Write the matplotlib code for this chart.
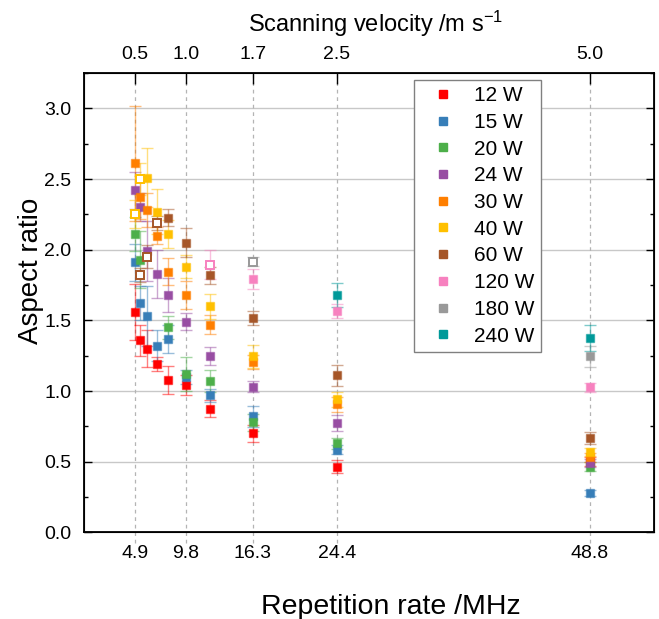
import numpy as np
import matplotlib
matplotlib.use('Agg')
import matplotlib.pyplot as plt
from matplotlib.ticker import MultipleLocator

plt.rcParams['font.family'] = ['Liberation Sans', 'DejaVu Sans']
plt.rcParams['mathtext.fontset'] = 'custom'
plt.rcParams['mathtext.rm'] = 'Liberation Sans'
plt.rcParams['mathtext.it'] = 'Liberation Sans'

# repetition rate positions (MHz) and the matching scanning velocity labels
rate = [4.9, 5.4, 6.1, 7.0, 8.1, 9.8, 12.2, 16.3, 24.4, 48.8]
rate_ticks = [4.9, 9.8, 16.3, 24.4, 48.8]
velocity_labels = ['0.5', '1.0', '1.7', '2.5', '5.0']

nan = np.nan
# aspect ratio per power, same order as rate (nan = not measured)
ar_12 = [1.56, 1.36, 1.30, 1.19, 1.08, 1.04, 0.875, 0.70, 0.465, 0.50]
ar_15 = [1.91, 1.62, 1.53, 1.32, 1.37, 1.10, 0.97, 0.82, 0.585, 0.278]
ar_20 = [2.11, 1.93, nan, nan, 1.45, 1.12, 1.07, 0.78, 0.63, 0.465]
ar_24 = [2.42, 2.30, 1.99, 1.83, 1.68, 1.49, 1.25, 1.03, 0.775, 0.49]
ar_30 = [2.61, 2.37, 2.28, 2.10, 1.845, 1.68, 1.47, 1.205, 0.905, 0.53]
ar_40 = [2.25, 2.50, 2.51, 2.27, 2.11, 1.88, 1.60, 1.245, 0.94, 0.57]
ar_60 = [nan, 1.82, 1.95, 2.19, 2.225, 2.05, 1.82, 1.515, 1.11, 0.668]
ar_120 = [nan, nan, nan, nan, nan, nan, 1.895, 1.79, 1.565, 1.025]
ar_180 = [nan, nan, nan, nan, nan, nan, nan, 1.915, nan, 1.245]
ar_240 = [nan, nan, nan, nan, nan, nan, nan, nan, 1.68, 1.375]

# error bars (std)
err_12 = [0.20, 0.11, 0.13, 0.05, 0.10, 0.07, 0.06, 0.06, 0.045, 0.03]
err_15 = [0.13, 0.12, 0.21, 0.11, 0.10, 0.05, 0.045, 0.075, 0.03, 0.02]
err_20 = [0.12, 0.20, nan, nan, 0.08, 0.12, 0.08, 0.06, 0.04, 0.03]
err_24 = [0.13, 0.10, 0.21, 0.17, 0.12, 0.06, 0.065, 0.04, 0.055, 0.03]
err_30 = [0.41, 0.15, 0.12, 0.06, 0.095, 0.10, 0.07, 0.05, 0.05, 0.03]
err_40 = [0.10, 0.11, 0.21, 0.16, 0.10, 0.08, 0.09, 0.08, 0.05, 0.03]
err_60 = [nan, 0.05, 0.08, 0.05, 0.06, 0.10, 0.06, 0.05, 0.075, 0.04]
err_120 = [nan, nan, nan, nan, nan, nan, 0.10, 0.07, 0.05, 0.03]
err_180 = [nan, nan, nan, nan, nan, nan, nan, 0.03, nan, 0.075]
err_240 = [nan, nan, nan, nan, nan, nan, nan, nan, 0.085, 0.095]

# points drawn as open squares
open_12 = []
open_15 = []
open_20 = []
open_24 = []
open_30 = []
open_40 = [0, 1]
open_60 = [1, 2, 3]
open_120 = [6]
open_180 = [7]
open_240 = []

labels = ['12 W', '15 W', '20 W', '24 W', '30 W', '40 W', '60 W', '120 W', '180 W', '240 W']
colors = ['#FF0000', '#377EB8', '#4DAF4A', '#984EA3', '#FF7F00',
          '#FFC000', '#A65628', '#F781BF', '#999999', '#009999']
series = [ar_12, ar_15, ar_20, ar_24, ar_30, ar_40, ar_60, ar_120, ar_180, ar_240]
errors = [err_12, err_15, err_20, err_24, err_30, err_40, err_60, err_120, err_180, err_240]
opens = [open_12, open_15, open_20, open_24, open_30, open_40, open_60, open_120, open_180, open_240]

fig = plt.figure(figsize=(6.59, 6.19), dpi=100)
ax = fig.add_axes([0.1275, 0.14, 0.865, 0.742])

ax.set_xlim(0, 55)
ax.set_ylim(0, 3.25)

# grid
for yv in np.arange(0.5, 3.01, 0.5):
    ax.axhline(yv, color='#c8c8c8', lw=1.0, zorder=0)
for xv in rate_ticks:
    ax.axvline(xv, ymin=-0.024, ymax=1, color='#b4b4b4', lw=0.9, ls=(0, (3, 3)),
               zorder=0, clip_on=False)

handles = []
for y, e, op, c, lab in zip(series, errors, opens, colors, labels):
    x = np.array(rate)
    y = np.array(y)
    e = np.array(e)
    ok = ~np.isnan(y)
    ax.errorbar(x[ok], y[ok], yerr=e[ok], fmt='none', ecolor=c, alpha=0.5,
                elinewidth=1.0, capsize=4, capthick=1.0, zorder=2)
    filled = [i for i in range(len(x)) if ok[i] and i not in op]
    hollow = [i for i in range(len(x)) if ok[i] and i in op]
    h, = ax.plot(x[filled], y[filled], 's', color=c, ms=6, mec=matplotlib.colors.to_rgba(c, 0.55),
                 mew=1.0, ls='none', zorder=3, label=lab)
    if hollow:
        ax.plot(x[hollow], y[hollow], 's', mfc='white', mec=c, ms=6, mew=1.4,
                ls='none', zorder=3)
    handles.append(h)

ax.set_xticks(rate_ticks)
ax.set_xticklabels(['4.9', '9.8', '16.3', '24.4', '48.8'])
ax.yaxis.set_major_locator(MultipleLocator(0.5))
ax.yaxis.set_minor_locator(MultipleLocator(0.25))
ax.set_yticks(np.arange(0, 3.01, 0.5))
ax.set_yticklabels(['%.1f' % v for v in np.arange(0, 3.01, 0.5)])
ax.tick_params(axis='x', which='both', bottom=True, top=False, length=0, pad=9, labelsize=14)
ax.tick_params(axis='y', which='major', direction='in', length=6, width=1.0,
               left=True, right=True, labelsize=14, pad=9)
ax.tick_params(axis='y', which='minor', direction='in', length=3, width=1.0,
               left=True, right=True)
for s in ax.spines.values():
    s.set_linewidth(1.3)

ax.set_xlabel('Repetition rate /MHz', fontsize=20.5)
ax.xaxis.set_label_coords(0.539, -0.135)
ax.set_ylabel('Aspect ratio', fontsize=20)
ax.yaxis.set_label_coords(-0.07, 0.569)

top = ax.twiny()
top.set_xlim(ax.get_xlim())
top.set_xticks(rate_ticks)
top.set_xticklabels(velocity_labels)
top.tick_params(axis='x', direction='in', length=8, width=1.0, labelsize=14, pad=7)
top.set_xlabel('Scanning velocity /m s$^{\\mathrm{-1}}$', fontsize=17)
top.xaxis.set_label_coords(0.512, 1.09)

leg = ax.legend(handles=handles, loc='upper right', bbox_to_anchor=(0.801, 0.985),
                fontsize=15, frameon=True, fancybox=False, edgecolor='#808080',
                framealpha=1, markerscale=0.9, handlelength=2.1, handletextpad=0.45,
                labelspacing=0.37, borderpad=0.3, borderaxespad=0)
leg.get_frame().set_linewidth(1.0)
for lh in leg.legend_handles:
    lh.set_markeredgecolor(lh.get_markerfacecolor())

fig.savefig('out.png', dpi=100)
